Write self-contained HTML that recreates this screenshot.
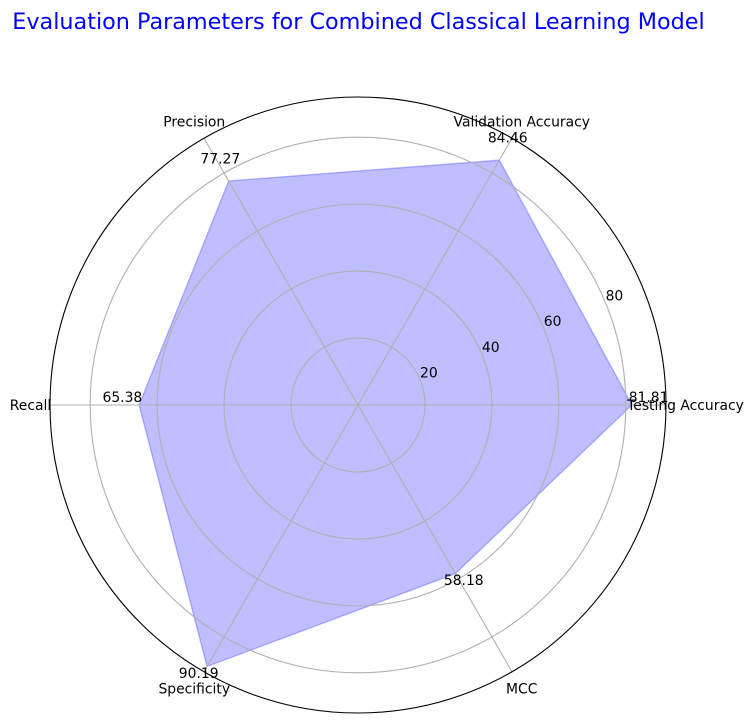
<!DOCTYPE html>
<html>
<head>
<meta charset="utf-8">
<style>
html,body{margin:0;padding:0;background:#fff;width:754px;height:723px;overflow:hidden}
svg{display:block}
text{font-family:"DejaVu Sans","Liberation Sans",sans-serif;fill:#000}
</style>
</head>
<body>
<svg id="chart" width="754" height="723" viewBox="0 0 754 723" xmlns="http://www.w3.org/2000/svg">
<text x="358.5" y="29" text-anchor="middle" font-size="22.3" style="fill:#0000ff">Evaluation Parameters for Combined Classical Learning Model</text>
<g id="series"></g>
<g id="gridtop"></g>
<g id="labels"></g>
</svg>
<script>
const categories = ['Testing Accuracy', 'Validation Accuracy', 'Precision', 'Recall', 'Specificity', 'MCC'];
const seriesValues = [81.81, 84.46, 77.27, 65.38, 90.19, 58.18];
const radialTicks = [20, 40, 60, 80];
const radialMax = 92;

const NS = 'http://www.w3.org/2000/svg';
const cx = 358, cy = 405, outerR = 308, labelR = 327.5;
const rScale = v => v / radialMax * outerR;
const angleOf = i => i * 2 * Math.PI / categories.length;
const px = (v, i) => cx + rScale(v) * Math.cos(angleOf(i));
const py = (v, i) => cy - rScale(v) * Math.sin(angleOf(i));
const make = (tag, parent, attrs) => {
  const el = document.createElementNS(NS, tag);
  for (const k in attrs) el.setAttribute(k, attrs[k]);
  parent.appendChild(el);
  return el;
};

const gridTop = document.getElementById('gridtop');
const seriesG = document.getElementById('series');
const labelsG = document.getElementById('labels');

const poly = make('polygon', seriesG, {
  points: seriesValues.map((v, i) => px(v, i).toFixed(2) + ',' + py(v, i).toFixed(2)).join(' '),
  fill: '#0000ff', 'fill-opacity': 0.25, stroke: '#0000ff', 'stroke-opacity': 0.25, 'stroke-width': 1.4
});



radialTicks.forEach(t => {
  const c = make('circle', gridTop, {cx: cx, cy: cy, r: rScale(t), fill: 'none', stroke: '#b0b0b0', 'stroke-width': 1.1});
  
  
  const a = Math.PI / 8;
  const lbl = make('text', labelsG, {
    x: cx + rScale(t) * Math.cos(a) + 9,
    y: cy - rScale(t) * Math.sin(a) - 2,
    'text-anchor': 'middle', 'font-size': 13.9
  });
  
  
  lbl.textContent = t;
});

categories.forEach((name, i) => {
  const s = make('line', gridTop, {
    x1: cx, y1: cy,
    x2: cx + outerR * Math.cos(angleOf(i)),
    y2: cy - outerR * Math.sin(angleOf(i)),
    stroke: '#b0b0b0', 'stroke-width': 1.1
  });
  
  
});

const spine = make('circle', gridTop, {cx: cx, cy: cy, r: outerR, fill: 'none', stroke: '#000', 'stroke-width': 1.1});



categories.forEach((name, i) => {
  const t = make('text', labelsG, {
    x: cx + labelR * Math.cos(angleOf(i)),
    y: cy - labelR * Math.sin(angleOf(i)) + 5,
    'font-size': 13.9, 'text-anchor': 'middle'
  });
  
  
  t.textContent = name;
});

seriesValues.forEach((v, i) => {
  const t = make('text', labelsG, {
    x: px(v + 5, i), y: py(v + 5, i) - 3,
    'text-anchor': 'middle', 'font-size': 13.9
  });
  
  
  t.textContent = v.toFixed(2);
});
</script>
</body>
</html>
